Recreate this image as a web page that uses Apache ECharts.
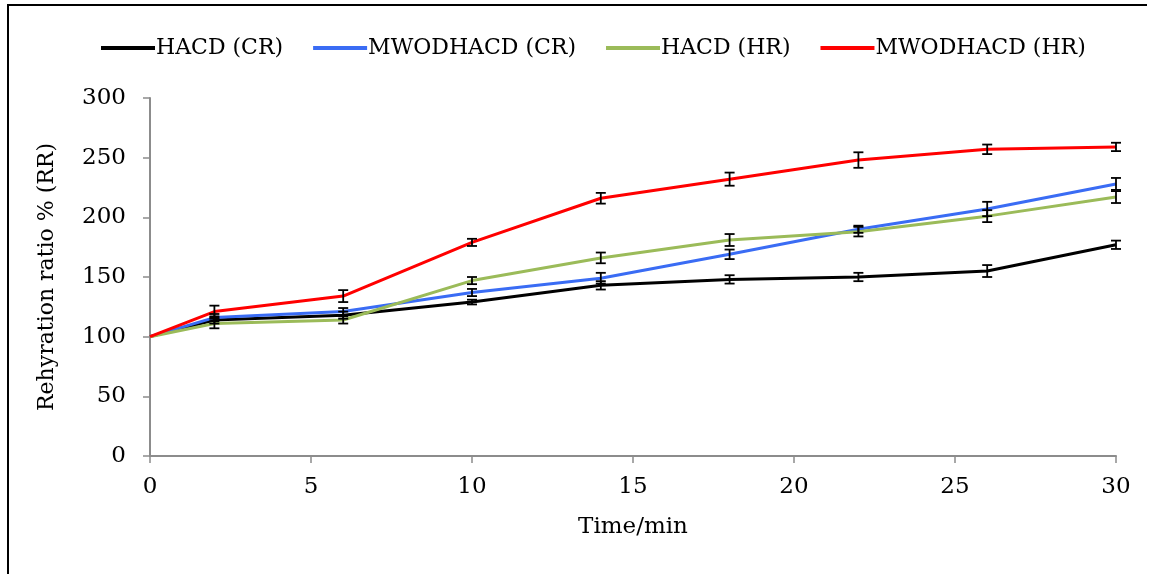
<!DOCTYPE html>
<html>
<head>
<meta charset="utf-8">
<script src="https://cdn.jsdelivr.net/npm/echarts@6/dist/echarts.min.js"></script>
<style>
  html, body { margin: 0; padding: 0; background: #fff; }
  #chart { width: 1156px; height: 574px; }
</style>
</head>
<body>
<div id="chart"></div>
<script>
// time points (min)
const times = [0, 2, 6, 10, 14, 18, 22, 26, 30];
const xTicks = [0, 5, 10, 15, 20, 25, 30];

const seriesNames = ['HACD (CR)', 'MWODHACD (CR)', 'HACD (HR)', 'MWODHACD (HR)'];
const hacdCR = [100, 114, 118, 129, 143, 148, 150, 155, 177];
const mwodCR = [100, 116, 121, 137, 149, 169, 190, 207, 228];
const hacdHR = [100, 111, 114, 147, 166, 181, 188, 201, 217];
const mwodHR = [100, 121, 134, 179, 216, 232, 248, 257, 259];

// +/- error
const errHacdCR = [0, 3, 3, 2, 3.5, 3.5, 3.5, 5, 3.5];
const errMwodCR = [0, 3, 3, 3, 4.5, 4, 3, 6, 5];
const errHacdHR = [0, 4, 3, 3, 4.5, 5, 4, 5, 5];
const errMwodHR = [0, 5, 5, 3, 4.5, 5.5, 6.5, 4, 3.5];

const colors = ['#000000', '#3a6cf4', '#9bbb59', '#ff0000'];
const values = [hacdCR, mwodCR, hacdHR, mwodHR];
const errors = [errHacdCR, errMwodCR, errHacdHR, errMwodHR];

const font = 'DejaVu Serif';
const chart = echarts.init(document.getElementById('chart'));

const lineSeries = seriesNames.map((name, i) => ({
  name: name,
  type: 'line',
  data: times.map((t, j) => [t, values[i][j]]),
  symbol: 'none',
  lineStyle: { color: colors[i], width: 3 },
  itemStyle: { color: colors[i] },
  z: 2
}));

const errSeries = seriesNames.map((name, i) => ({
  type: 'custom',
  data: times.map((t, j) => [t, values[i][j] - errors[i][j], values[i][j] + errors[i][j]])
    .filter((d, j) => errors[i][j] > 0),
  renderItem: function (params, api) {
    const lo = api.coord([api.value(0), api.value(1)]);
    const hi = api.coord([api.value(0), api.value(2)]);
    const w = 5;
    const st = { stroke: '#000', lineWidth: 1.8 };
    return {
      type: 'group',
      children: [
        { type: 'line', shape: { x1: lo[0], y1: lo[1], x2: hi[0], y2: hi[1] }, style: st },
        { type: 'line', shape: { x1: lo[0] - w, y1: lo[1], x2: lo[0] + w, y2: lo[1] }, style: st },
        { type: 'line', shape: { x1: hi[0] - w, y1: hi[1], x2: hi[0] + w, y2: hi[1] }, style: st }
      ]
    };
  },
  silent: true,
  z: 5
}));

chart.setOption({
  animation: false,
  grid: { left: 150, right: 40, top: 98, bottom: 118 },
  legend: {
    top: 32,
    left: 96,
    data: seriesNames,
    icon: 'rect',
    itemWidth: 54,
    itemHeight: 4,
    itemGap: 30,
    textStyle: { fontFamily: font, fontSize: 22, color: '#000', padding: [0, 0, 0, -4] }
  },
  xAxis: {
    type: 'value',
    min: 0,
    max: 30,
    interval: 5,
    name: 'Time/min',
    nameLocation: 'middle',
    nameGap: 60,
    nameTextStyle: { fontFamily: font, fontSize: 23, color: '#000' },
    axisLine: { lineStyle: { color: '#8c8c8c', width: 2 } },
    axisTick: { show: true, inside: false, length: 7, lineStyle: { color: '#8c8c8c', width: 1.5 } },
    axisLabel: { fontFamily: font, fontSize: 23, color: '#000', margin: 20,
      customValues: xTicks },
    splitLine: { show: false }
  },
  yAxis: {
    type: 'value',
    min: 0,
    max: 300,
    interval: 50,
    name: 'Rehyration ratio % (RR)',
    nameLocation: 'middle',
    nameGap: 92,
    nameTextStyle: { fontFamily: font, fontSize: 22, color: '#000' },
    axisLine: { show: true, lineStyle: { color: '#8c8c8c', width: 2 } },
    axisTick: { show: true, length: 7, lineStyle: { color: '#8c8c8c', width: 1.5 } },
    axisLabel: { fontFamily: font, fontSize: 23, color: '#000', margin: 24 },
    splitLine: { show: false }
  },
  graphic: [
    { type: 'polyline', silent: true,
      shape: { points: [[8, 574], [8, 5], [1147, 5]] },
      style: { stroke: '#000', lineWidth: 2, fill: null } }
  ],
  series: lineSeries.concat(errSeries)
});
</script>
</body>
</html>
